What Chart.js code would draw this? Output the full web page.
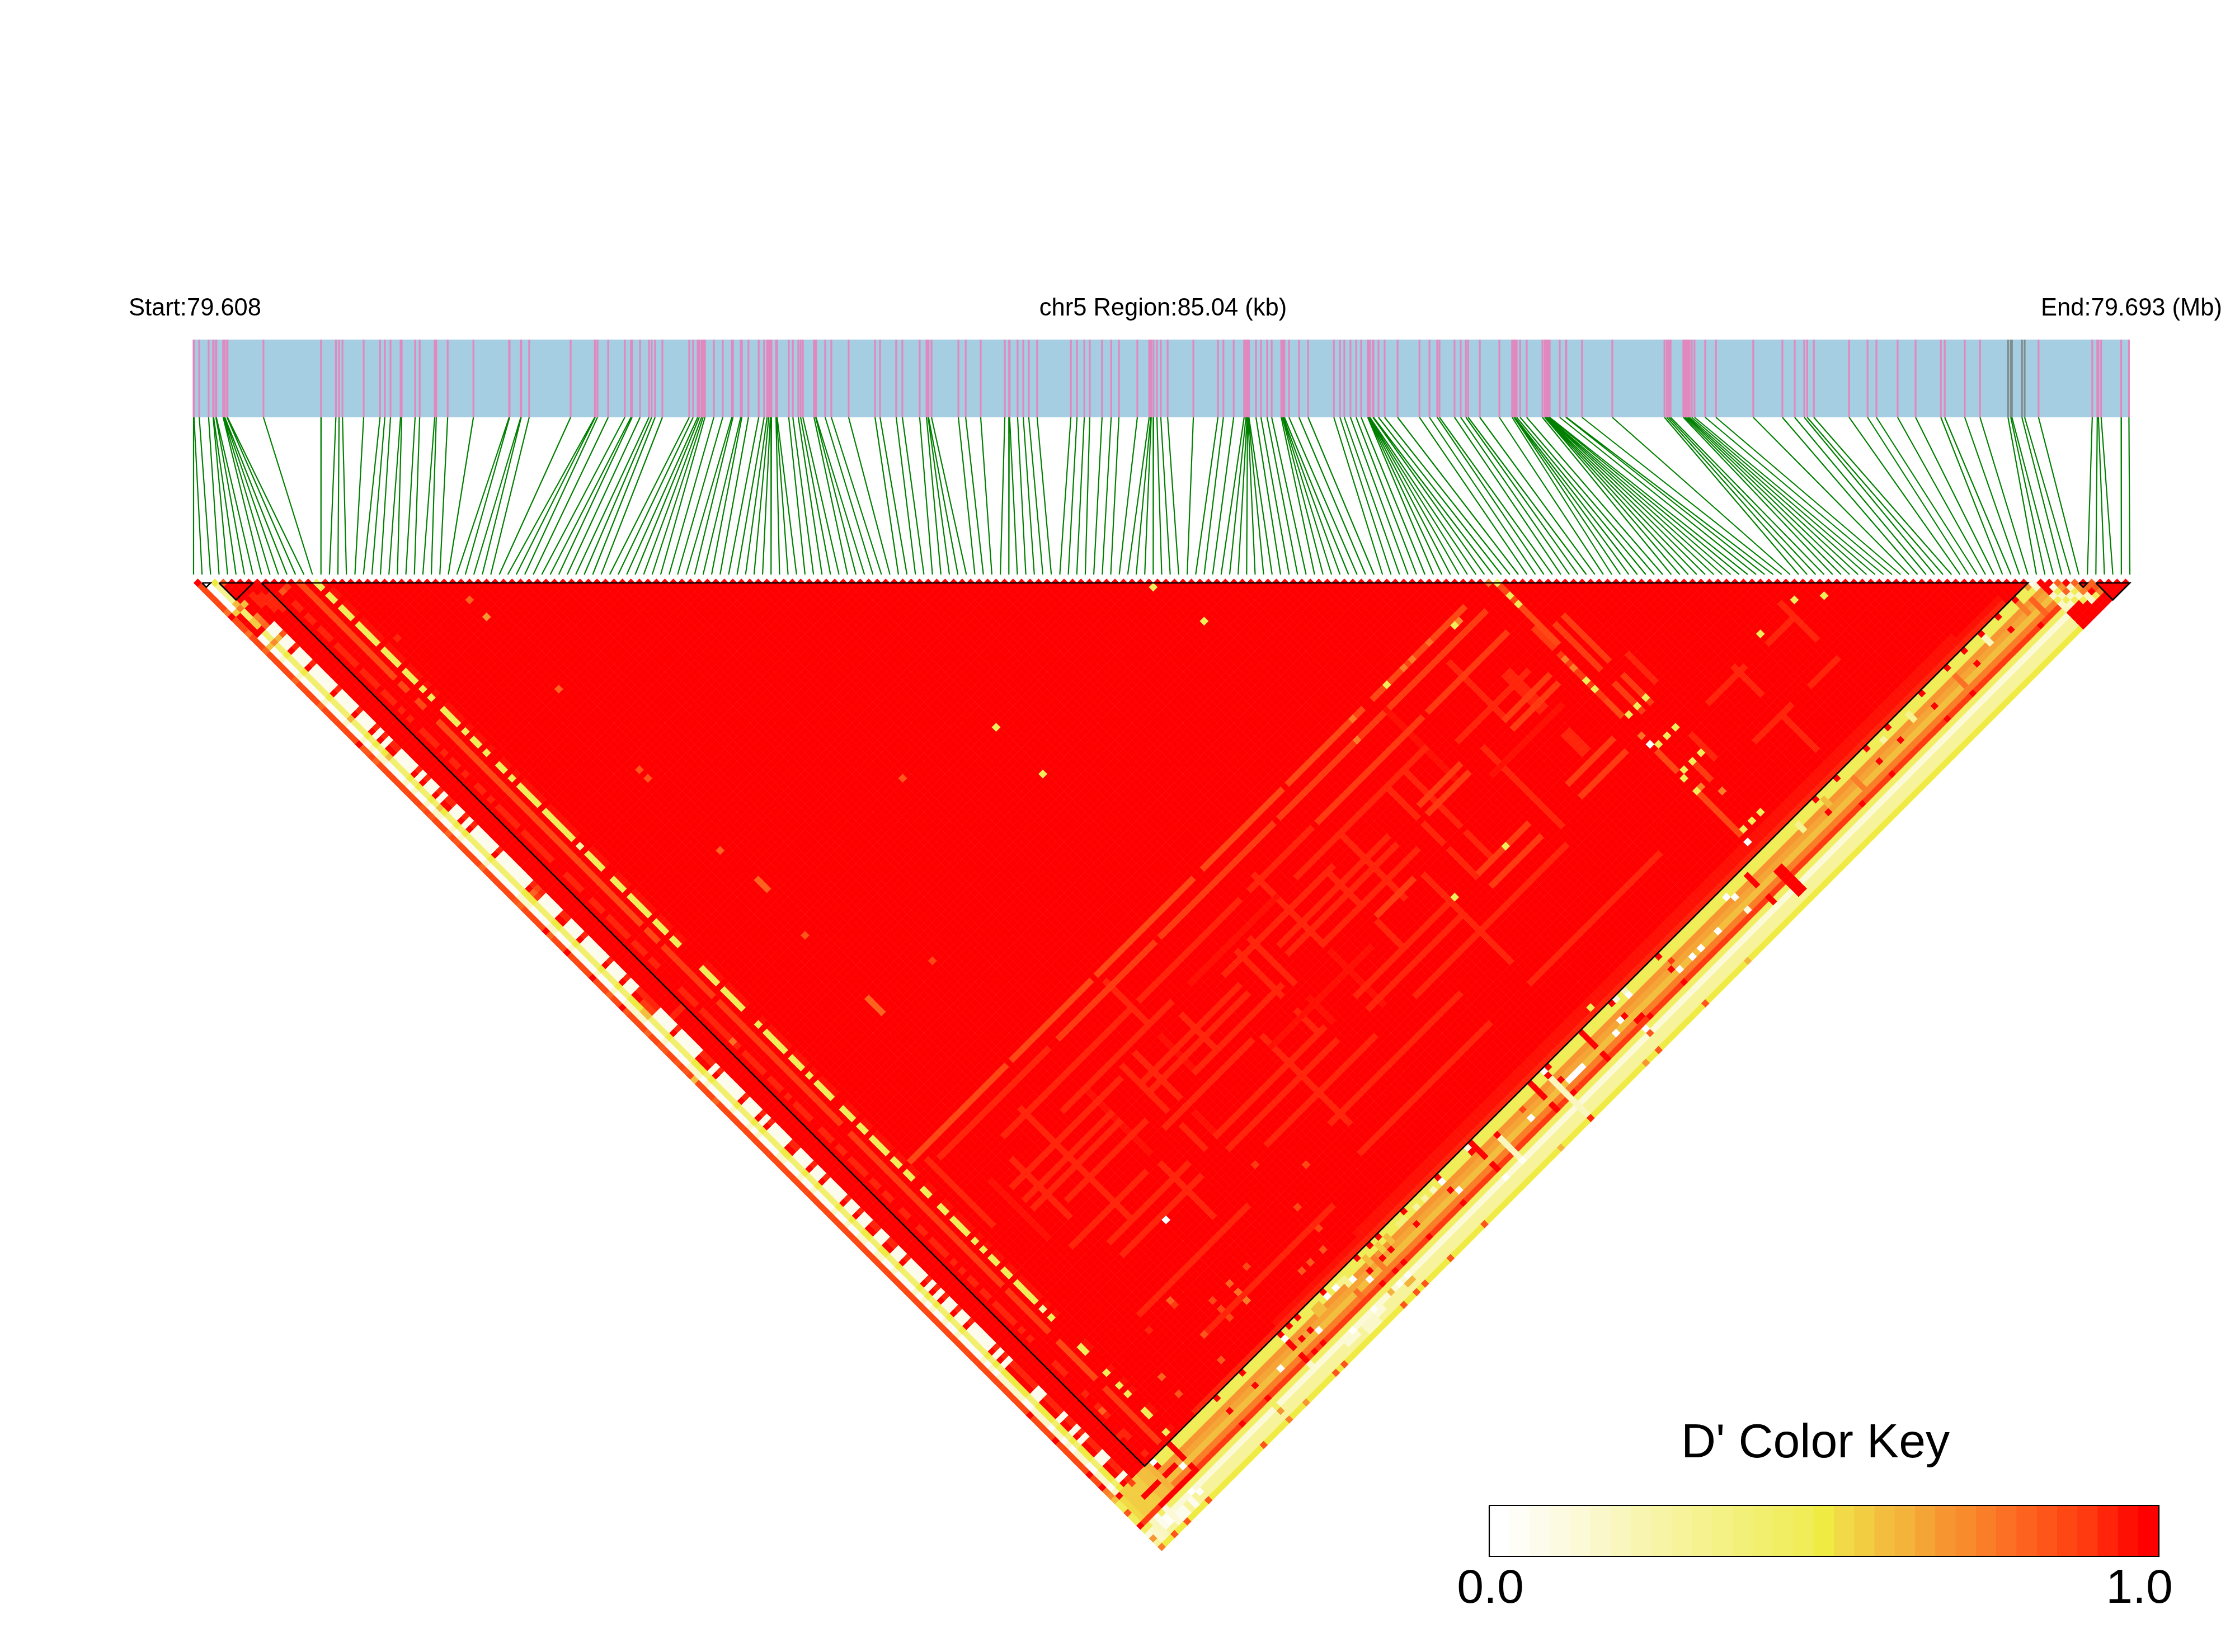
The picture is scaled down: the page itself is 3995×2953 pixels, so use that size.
<!DOCTYPE html>
<html>
<head>
<meta charset="utf-8">
<title>LD heatmap chr5</title>
<script src="https://cdn.jsdelivr.net/npm/chart.js@4"></script>
<style>
  html, body { margin: 0; background: #fff; }
  canvas { display: block; }
</style>
</head>
<body>
<canvas id="ldChart" width="3995" height="2953"></canvas>
<script>
// SNP positions, kb from the region start
const snpKb = [
  0.00,0.02,0.25,0.66,0.86,0.88,0.98,1.00,1.30,1.32,1.35,1.37,1.47,1.49,3.07,5.60,6.25,6.39,6.54,7.47,8.19,8.40,8.65,9.09,9.14,9.73,9.93,10.59,10.66,11.16,12.29,
  13.86,13.88,14.37,14.39,14.74,16.56,17.62,17.64,17.74,18.21,18.94,19.21,19.26,19.61,20.00,20.12,20.27,20.59,21.77,21.94,22.14,22.21,22.31,22.38,22.46,22.85,23.24,23.64,23.69,24.03,24.08,24.37,24.82,25.06,25.19,25.26,25.33,25.38,
  25.58,25.60,25.63,26.14,26.32,26.56,26.66,26.76,27.25,27.32,27.34,27.74,28.01,28.77,29.93,30.15,30.86,31.13,31.89,32.19,32.26,32.28,32.41,33.59,33.91,34.57,35.63,35.82,35.84,36.19,36.44,36.68,37.05,38.53,38.80,39.12,39.36,39.90,40.30,
  40.64,41.45,41.97,42.04,42.06,42.16,42.31,42.48,42.78,43.91,44.99,45.23,45.68,46.14,46.22,46.27,46.29,46.31,46.33,46.35,
  46.66,46.88,47.15,47.35,47.77,47.82,47.84,47.86,47.91,48.11,48.55,48.95,50.08,50.35,50.54,50.81,51.06,51.28,51.57,51.59,
  51.61,51.63,51.64,51.66,51.80,51.82,52.04,52.31,52.88,53.84,54.28,54.62,54.72,55.38,55.65,55.88,55.98,56.49,57.35,57.91,
  57.99,58.01,58.03,58.11,58.26,58.55,59.24,59.34,59.36,59.38,59.40,59.44,59.46,59.48,59.54,59.56,60.00,60.27,60.29,60.98,
  62.31,64.60,64.70,64.79,64.87,65.43,65.50,65.57,65.63,65.70,65.80,65.92,66.39,66.86,68.50,69.78,70.32,70.74,70.87,71.16,
  72.71,73.52,73.91,74.84,75.63,76.74,76.91,77.79,78.46,79.69,79.81,79.86,80.30,80.42,81.03,83.39,83.61,83.66,83.78,84.66,85.00
];
const regionKb = 85.04;
const graySnps = [217, 218, 219, 220, 221];
const ldBlocks = [[1, 2], [3, 7], [8, 216], [222, 223], [224, 228]];

// D' colour key, 33 steps from 0.0 to 1.0
const colorKey = [
  '#FFFFFF','#FEFEF6','#FDFCEC','#FCFBE2','#FBF9D6','#FAF8CA','#F9F6BE','#F8F5B1','#F7F4A6','#F6F39A','#F5F28F',
  '#F4F185','#F3F07A','#F2EF6F','#F1EE64','#F0ED58','#F0EB42','#F1DA45','#F2CD42','#F3BE3D','#F4B33A','#F5A535',
  '#F79530','#F88C2C','#FA7D28','#FB7024','#FD631F','#FE551A','#FF4714','#FF3A10','#FF240A','#FF1005','#FF0000'
];

// levels of the right hand band, SNPs 217..228
const bandLevels = [15, 15, 22, 21, 19, 24, 29, 14, 4, 9, 9, 16];

// SNPs whose D' with the first SNPs is low, and the ones between them
const rareSnps = [
  15,16,18,19,21,22,23,25,26,27,28,29,31,32,33,34,36,37,38,40,42,45,46,47,48,50,52,53,55,58,59,61,63,64,65,66,67,69,70,71,72,73,74,75,
  79,80,81,82,85,86,87,89,90,91,92,93,95,96,97,99,100,106,107,108,109,111,112,113,114,115,119,121,122,123,124,125,127,128,129,131,133,
  134,135,136,139,140,141,143,144,146,147,148,149,151,152,154,155,158,159,162,163,165,166,167,168,170,172,174,175,177,178,180,181,182,
  183,184,186,188,195,196,201,204,206,210,211,215
];
const commonSnps = [
  17,20,24,30,35,39,41,43,44,49,51,54,56,57,60,62,68,76,77,78,83,84,88,94,98,101,102,103,104,105,110,116,117,118,120,126,130,132,137,
  138,142,145,150,153,156,157,160,161,164,169,171,173,176,179,185,187,189,190,191,192,193,194,197,198,199,200,202,203,205,207,208,209,
  212,213,214,216
];
const rareRowLevels = [[1, 1], [2, 13], [3, 2], [4, 2], [9, 30], [14, 15], [15, 31]];
const commonRowLevels = [[1, 5], [2, 16], [3, 32], [4, 30]];

// [i, jFrom, jTo, level]
const rowRuns = [
  [0,2,216,28],[1,2,8,0],[2,4,7,10],[2,8,11,13],[12,13,35,28],[12,37,38,28],[12,41,42,28],[12,46,93,28],[12,95,97,28],[12,99,110,29],[12,112,140,29],[12,143,178,29],[12,180,189,29],[12,192,200,28],[12,203,215,29],
  [0,217,222,15],[1,217,222,17],[2,217,222,18],[3,217,222,18],[4,217,222,18],[5,217,222,18],[6,217,222,19],[7,217,222,19],[8,217,222,20],
  [5,9,11,30],[6,10,13,30],[7,11,14,30],[9,112,118,30],[3,103,105,29],[31,102,104,26],[30,129,132,26],
  [143,166,174,30],[144,166,174,30],[143,180,184,30],[144,180,184,30],
  [116,166,172,30],[116,174,178,30],[116,180,186,30],[120,166,178,30],[120,180,186,30],[79,167,177,30],[79,181,186,30],[82,167,177,30],[82,181,186,31],
  [52,167,177,30],[52,181,186,30],[55,167,177,30],[55,181,186,31],[23,165,178,31],[28,165,178,30],[65,168,176,30],[99,168,176,30],[99,180,186,30],
  [18,155,170,30],[35,160,185,30],[45,165,180,31],[45,183,195,30],[60,155,165,30],[60,168,175,31],[72,180,200,30],[90,160,175,30],[90,178,190,31],
  [105,165,180,30],[110,180,200,30],[125,156,172,31],[132,172,190,30],[138,158,170,30],
  [152,164,168,29],[152,170,180,29],[152,181,184,28],[152,193,197,28],[152,203,212,28],[153,155,168,28],[155,166,176,29],[157,166,176,29],
  [155,180,186,29],[157,180,186,29],[155,198,202,29],[171,192,198,30],[171,203,211,30],[184,190,198,30],[158,195,200,30],[160,178,184,30],
  [39,219,220,32],[39,222,223,32],[84,218,220,32],[84,222,223,32],[88,220,224,6],[98,218,220,32],[98,222,223,32],[101,219,227,6],
  [110,218,220,32],[110,222,223,32],[148,218,220,32],[148,223,224,32],[13,218,220,32],[13,222,223,32],[152,221,226,32],[153,221,226,32],
  [46,218,219,19],[47,218,219,19],[52,218,218,10],[53,218,219,10],[53,221,222,25],[58,218,219,19],[59,219,221,24],[61,218,219,18],[63,218,219,19],
  [66,218,218,12],[67,218,218,12],[70,218,218,8],[72,218,218,8],[74,218,218,6],
  [3,224,226,2],[4,225,226,1],[5,224,227,4],[6,226,227,2],[2,224,227,6],[1,225,227,5],[7,226,227,2],[9,226,227,2],
  [50,226,227,5],[51,226,227,5],[52,226,227,5],[46,226,226,4],[47,226,226,4],[48,226,226,4],[53,226,226,4],[54,226,226,4],
  [160,218,219,10],[166,218,219,19],[172,219,221,24],[180,218,218,8],[186,218,219,10],[196,219,221,25],[204,218,219,6],[212,218,220,24],[214,219,222,26]
];

// [j, iFrom, iTo, level]
const columnRuns = [
  [153,16,38,28],[153,40,58,28],[153,60,82,28],[153,85,103,28],[153,105,122,28],[153,125,146,28],
  [156,20,45,30],[156,48,70,29],[156,72,98,29],[156,100,124,29],[156,126,148,29],
  [161,30,60,30],[161,62,85,30],[161,88,102,30],[161,104,128,29],[161,130,148,29],
  [165,40,65,30],[165,70,90,31],[165,95,125,30],[168,25,50,30],[168,75,100,30],[168,130,146,30],
  [171,25,45,30],[171,52,75,30],[171,85,110,30],[171,118,127,29],[171,138,148,29],
  [173,25,45,30],[173,52,75,30],[173,85,110,30],[173,118,127,29],[173,138,148,29],
  [176,30,48,30],[176,60,80,30],[176,90,112,30],[176,130,146,31],[179,50,70,30],[179,100,108,29],[182,25,42,30],[182,72,95,31],
  [186,30,48,30],[186,55,80,30],[186,88,110,30],[186,117,128,29],[186,138,148,29],
  [189,30,48,30],[189,55,80,30],[189,88,110,30],[189,117,128,29],[189,138,148,29],
  [193,60,85,30],[193,95,130,30],[198,25,50,30],[198,70,100,30],[205,70,100,30],[205,110,140,30],[208,30,60,30],
  [193,164,172,30],[193,178,184,30],[203,165,173,30],[203,178,184,30],[108,5,7,30],[12,9,10,29],
  [216,20,210,30],[215,40,210,31],[214,60,200,31],[220,9,11,32],[220,4,7,32],[223,5,12,32],[221,103,106,0]
];

// [i, j, level]
const singleCells = [
  [0,1,32],[2,3,16],[3,4,27],[14,77,8],[14,186,8],[9,16,30],[9,118,25],[9,12,27],[10,12,29],[17,31,30],
  [2,8,19],[1,9,18],[2,9,24],[3,9,19],[2,12,18],[2,13,18],[3,12,24],[3,13,25],[3,14,26],[1,17,19],[2,17,23],[3,17,20],[4,17,27],
  [2,35,20],[2,44,19],[2,56,19],[3,77,26],[4,77,28],[3,78,29],[2,104,19],[2,105,19],
  [0,8,25],[0,9,32],[0,13,25],[0,17,26],[0,24,26],[0,30,26],[0,39,32],[0,40,27],[0,41,27],[0,43,26],[0,54,27],[0,56,27],[0,60,26],[0,62,27],
  [0,68,26],[0,76,27],[0,77,26],[0,83,32],[0,84,26],[0,88,32],[0,94,32],[0,98,26],[0,101,32],[0,102,27],[0,107,26],[0,110,27],[0,111,27],
  [0,114,27],[0,116,27],[0,118,19],[0,123,26],[0,197,32],[0,203,32],[0,211,32],[0,214,32],[0,215,24],[0,216,23],
  [0,217,19],[0,220,27],[0,223,32],[0,226,22],[0,228,24],[1,217,32],[4,217,28],[9,217,0],[9,218,32],[3,228,27],[6,228,27],[11,228,27],[10,225,0],[11,226,1],
  [13,217,32],[12,221,0],[24,217,32],[24,220,32],[24,223,32],[24,228,27],[30,217,32],[30,220,32],[30,223,32],[30,225,14],[30,226,22],[30,228,24],
  [34,228,22],[35,221,0],[39,217,32],[39,218,0],[39,224,5],[41,217,32],[41,220,32],[41,223,32],[41,228,27],[43,217,32],[43,220,32],[43,223,32],[43,228,27],
  [44,221,0],[48,225,0],[49,217,32],[49,218,0],[51,218,0],[54,219,0],[56,221,0],[57,217,32],[57,220,32],[57,223,32],[57,228,27],
  [60,217,32],[60,220,32],[60,223,32],[60,228,27],[62,217,32],[62,220,32],[62,223,32],[62,228,27],[68,217,32],[68,220,32],[68,223,32],[68,228,27],
  [76,217,32],[76,218,0],[76,220,32],[76,223,32],[76,228,27],[77,221,0],[83,217,3],[83,218,32],[84,217,32],[84,225,0],[88,219,32],[88,225,1],
  [94,219,28],[94,221,0],[94,228,20],[98,217,32],[101,217,1],[101,218,32],[101,228,30],[102,217,32],[102,220,32],[102,223,32],[110,217,32],
  [114,215,15],[114,221,0],[114,228,22],[116,220,0],[117,217,32],[117,220,32],[117,228,27],[118,217,3],[118,222,32],[118,224,0],[118,225,27],
  [119,222,32],[120,223,32],[120,217,6],[120,218,0],[128,217,32],[128,220,32],[128,223,32],[128,228,27],[129,219,29],[129,221,1],[132,221,0],
  [134,221,0],[138,221,0],[138,228,20],[143,218,0],[144,219,1],[144,222,3],[177,217,32],[177,220,32],[177,223,32],[190,217,32],[190,220,32],[190,223,32],
  [200,217,32],[200,220,32],[208,217,32],[208,220,32],[165,217,32],[165,220,32],[170,217,32],[170,223,32],[182,217,32],[182,220,32],[196,217,32],[196,223,32],[204,217,32],[212,217,32],[212,223,32],
  [53,225,1],[57,225,20],[59,225,1],[60,226,20],[61,225,1],[61,226,20],[39,190,0],
  [30,35,26],[30,39,22],[30,56,26],[30,75,27],[30,77,27],[30,94,26],[30,114,27],[42,132,28],[60,107,27],[30,200,26],[30,201,29],
  [35,205,28],[35,207,28],[35,209,28],[20,208,26],[20,212,27],[24,201,30],[9,205,26],[9,194,30],[9,195,30],[8,210,30],
  [39,205,26],[39,207,25],[39,209,24],[56,194,29],[56,204,28],[56,209,28],[62,200,28],[54,212,27],[51,212,27],[49,212,27],[43,205,28],[29,213,27],[30,208,27],
  [77,112,15],[77,123,15],[112,114,15],[114,124,15],[123,186,15],[111,186,15],
  [128,153,15],[132,153,24],[134,153,24],[138,153,25],[144,154,23],[143,154,15],[120,153,24],[118,156,24],
  [153,154,15],[152,153,25],[153,157,15],[153,159,15],[152,171,24],[152,173,24],[152,176,15],[152,178,15],[153,185,15],[155,185,15],[157,185,15],
  [152,189,25],[152,191,0],[153,192,15],[155,192,15],[157,192,15],[153,198,15],[155,198,15],[157,198,15],[152,199,15],[152,202,15],[153,202,24],[155,205,24],
  [157,212,15],[155,212,15],[153,212,15],[152,214,0],[178,191,15],[186,191,15],[190,194,15],
  [215,217,22],[216,217,2],[216,218,5],[218,220,3],[218,221,15],[219,220,26],[219,221,22],[219,222,26],[220,222,5],[220,223,15],[221,222,26],[221,223,22],[221,224,24],
  [218,222,6],[217,221,5],[217,222,15],[217,223,5],[218,223,15],[219,223,5],[220,224,5],[222,224,26],[223,224,26],[221,225,6],[222,226,15],[223,225,27],[223,226,24],
  [221,226,5],[220,225,15],[219,224,15],[218,224,5],[217,224,6]
];

const snpCount = snpKb.length;
const trackTop = -57.31, trackBottom = -39, stemEnd = -1.98;
const kbToIndex = kb => kb / regionKb * (snpCount - 1);

function buildLevels() {
  const levels = [];
  for (let i = 0; i < snpCount; i++) levels.push(new Array(snpCount).fill(32));
  for (let i = 0; i <= 216; i++) bandLevels.forEach((level, k) => { levels[i][217 + k] = level; });
  rareRowLevels.forEach(([i, level]) => rareSnps.forEach(j => { if (j > i) levels[i][j] = level; }));
  commonRowLevels.forEach(([i, level]) => commonSnps.forEach(j => { if (j > i) levels[i][j] = level; }));
  rowRuns.forEach(([i, from, to, level]) => { for (let j = from; j <= to; j++) levels[i][j] = level; });
  columnRuns.forEach(([j, from, to, level]) => { for (let i = from; i <= to; i++) levels[i][j] = level; });
  singleCells.forEach(([i, j, level]) => { levels[i][j] = level; });
  return levels;
}

function buildCellDatasets() {
  const levels = buildLevels();
  const byLevel = colorKey.map(() => []);
  for (let i = 0; i < snpCount; i++) {
    for (let j = i + 1; j < snpCount; j++) byLevel[levels[i][j]].push({ x: (i + j) / 2, y: j - i - 1 });
  }
  return byLevel.map((points, level) => ({
    data: points,
    parsing: false,
    normalized: true,
    showLine: false,
    pointStyle: 'rectRot',
    pointRadius: 7.85,
    pointHoverRadius: 7.85,
    pointBorderWidth: 0,
    pointBackgroundColor: colorKey[level],
    order: level === 32 ? 6 : 5,
  }));
}

function lineDataset(data, color, width, order) {
  return { data, showLine: true, pointRadius: 0, borderColor: color, borderWidth: width, spanGaps: false, order };
}

function buildTrackDatasets() {
  const pink = [], gray = [], stems = [];
  snpKb.forEach((kb, k) => {
    const x = kbToIndex(kb);
    const target = graySnps.includes(k) ? gray : pink;
    target.push({ x, y: trackTop }, { x, y: trackBottom }, { x: NaN, y: NaN });
    stems.push({ x, y: trackBottom }, { x: k, y: stemEnd }, { x: NaN, y: NaN });
  });
  return [
    lineDataset(stems, '#008000', 2.2, 7),
    lineDataset(gray, '#7F8C8D', 3.2, 8),
    lineDataset(pink, '#E188BE', 3.2, 9),
    {
      data: [{ x: 0, y: trackTop }, { x: snpCount - 1, y: trackTop }],
      showLine: true, pointRadius: 0, borderWidth: 0, backgroundColor: '#A6CEE3', fill: { value: trackBottom }, order: 10,
    },
  ];
}

function buildBlockOutlines() {
  const outline = [];
  ldBlocks.forEach(([from, to]) => {
    outline.push({ x: from, y: 0 }, { x: to, y: 0 }, { x: (from + to) / 2, y: to - from }, { x: from, y: 0 }, { x: NaN, y: NaN });
  });
  return lineDataset(outline, '#000000', 2.6, 1);
}

function buildKeyDatasets() {
  const keyTop = (2691 - 1042) / 7.59, keyBottom = (2782 - 1042) / 7.59;
  const bars = {
    type: 'bar',
    xAxisID: 'xKey',
    data: colorKey.map((color, level) => ({ x: (level + 0.5) / colorKey.length, y: [keyTop, keyBottom] })),
    backgroundColor: colorKey,
    barThickness: 37,
    grouped: false,
    order: 3,
  };
  const frame = lineDataset([
    { x: 0, y: keyTop }, { x: 1, y: keyTop }, { x: 1, y: keyBottom }, { x: 0, y: keyBottom }, { x: 0, y: keyTop },
  ], '#000000', 2.2, 2);
  frame.xAxisID = 'xKey';
  return [bars, frame];
}

const chartText = {
  id: 'chartText',
  afterDraw(chart) {
    const { ctx } = chart;
    ctx.save();
    ctx.fillStyle = '#000';
    ctx.textBaseline = 'alphabetic';
    ctx.font = '43.5px "Liberation Sans"';
    ctx.textAlign = 'left';
    ctx.fillText('Start:79.608', 230, 564);
    ctx.fillText('End:79.693 (Mb)', 3648, 564);
    ctx.textAlign = 'center';
    ctx.fillText('chr5 Region:85.04 (kb)', 2079, 564);
    ctx.font = '86px "Liberation Sans"';
    ctx.fillText("D' Color Key", 3245, 2605);
    ctx.fillText('0.0', 2664, 2865);
    ctx.fillText('1.0', 3824, 2865);
    ctx.restore();
  },
};

new Chart(document.getElementById('ldChart'), {
  type: 'scatter',
  data: { datasets: [...buildTrackDatasets(), ...buildCellDatasets(), buildBlockOutlines(), ...buildKeyDatasets()] },
  options: {
    responsive: false,
    devicePixelRatio: 1,
    animation: false,
    events: [],
    layout: { padding: 0, autoPadding: false },
    plugins: { legend: { display: false }, tooltip: { enabled: false } },
    scales: {
      x: { type: 'linear', display: false, offset: false, bounds: 'data', min: -346 / 15.18, max: (3995 - 346) / 15.18 },
      xKey: { type: 'linear', display: false, offset: false, bounds: 'data', axis: 'x', min: -2662 / 1197, max: (3995 - 2662) / 1197 },
      y: { type: 'linear', display: false, bounds: 'data', reverse: true, min: -1042 / 7.59, max: (2953 - 1042) / 7.59 },
    },
  },
  plugins: [chartText],
});
</script>
</body>
</html>
